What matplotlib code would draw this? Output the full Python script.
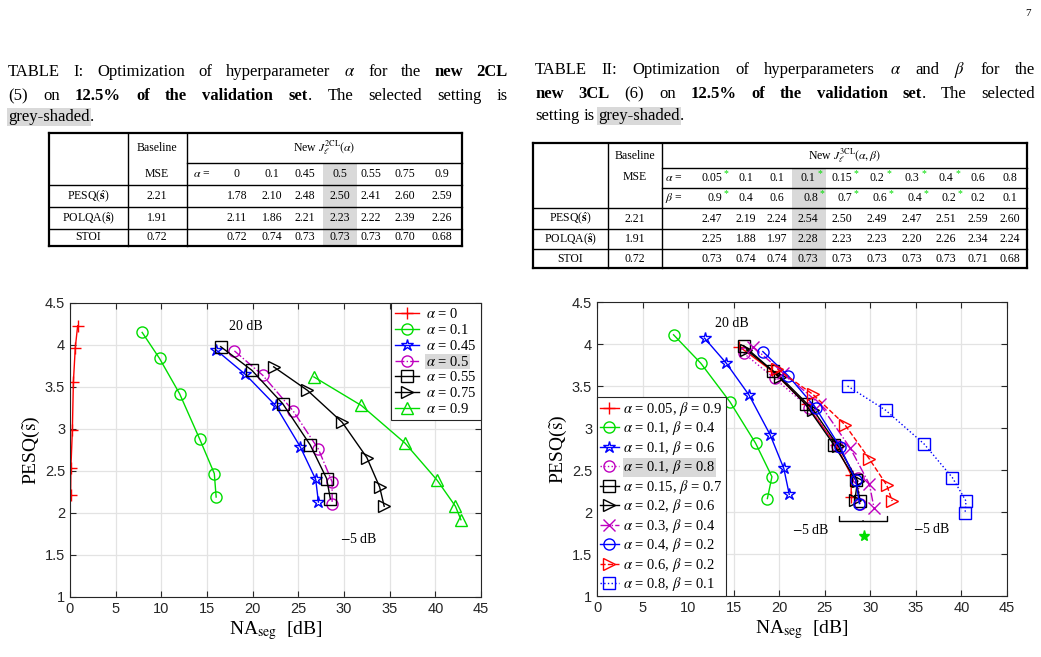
import matplotlib
matplotlib.use('Agg')
import matplotlib.pyplot as plt
from matplotlib.patches import Rectangle

plt.rcParams['mathtext.fontset'] = 'stix'
SERIF = 'Liberation Serif'
SANS = 'Liberation Sans'
W, H = 1041, 657
GREEN = '#00dd00'

# ---------------- data ----------------
# Table I
t1_alpha = ['0', '0.1', '0.45', '0.5', '0.55', '0.75', '0.9']
t1_rows = ['PESQ($\\hat{\\mathbf{s}}$)', 'POLQA($\\hat{\\mathbf{s}}$)', 'STOI']
t1_base = ['2.21', '1.91', '0.72']
t1_vals = [['1.78', '2.10', '2.48', '2.50', '2.41', '2.60', '2.59'],
           ['2.11', '1.86', '2.21', '2.23', '2.22', '2.39', '2.26'],
           ['0.72', '0.74', '0.73', '0.73', '0.73', '0.70', '0.68']]
t1_sel = 3

# Table II
t2_alpha = ['0.05', '0.1', '0.1', '0.1', '0.15', '0.2', '0.3', '0.4', '0.6', '0.8']
t2_beta = ['0.9', '0.4', '0.6', '0.8', '0.7', '0.6', '0.4', '0.2', '0.2', '0.1']
t2_star = [True, False, False, True, True, True, True, True, False, False]
t2_base = ['2.21', '1.91', '0.72']
t2_vals = [['2.47', '2.19', '2.24', '2.54', '2.50', '2.49', '2.47', '2.51', '2.59', '2.60'],
           ['2.25', '1.88', '1.97', '2.28', '2.23', '2.23', '2.20', '2.26', '2.34', '2.24'],
           ['0.73', '0.74', '0.74', '0.73', '0.73', '0.73', '0.73', '0.73', '0.71', '0.68']]
t2_sel = 3

# Left plot: NAseg (x) vs PESQ (y), per alpha
left_labels = ['$\\alpha$ = 0', '$\\alpha$ = 0.1', '$\\alpha$ = 0.45', '$\\alpha$ = 0.5',
               '$\\alpha$ = 0.55', '$\\alpha$ = 0.75', '$\\alpha$ = 0.9']
left_x = [[0.07, 0.1, 0.26, 0.37, 0.58, 0.84],
          [7.9, 9.8, 12.0, 14.2, 15.8, 16.0],
          [16.0, 19.2, 22.5, 25.2, 26.9, 27.2],
          [18.0, 21.1, 24.4, 27.2, 28.7, 28.7],
          [16.5, 19.9, 23.3, 26.3, 28.1, 28.5],
          [22.3, 26.0, 29.8, 32.5, 33.9, 34.4],
          [26.7, 31.9, 36.7, 40.2, 42.2, 42.8]]
left_y = [[2.21, 2.54, 2.99, 3.56, 3.97, 4.23],
          [4.15, 3.84, 3.42, 2.88, 2.47, 2.19],
          [3.94, 3.65, 3.28, 2.79, 2.40, 2.13],
          [3.93, 3.64, 3.22, 2.76, 2.37, 2.11],
          [3.98, 3.70, 3.30, 2.81, 2.41, 2.17],
          [3.74, 3.46, 3.08, 2.66, 2.31, 2.08],
          [3.62, 3.28, 2.83, 2.39, 2.08, 1.92]]
left_styles = [('r', '+', '-'), (GREEN, 'o', '-'), ('b', '*', '-'), ('m', 'o', '-.'),
               ('k', 's', '-'), ('k', '>', '-'), (GREEN, '^', '-')]

# Right plot, per (alpha, beta)
right_labels = ['$\\alpha$ = 0.05, $\\beta$ = 0.9', '$\\alpha$ = 0.1, $\\beta$ = 0.4',
                '$\\alpha$ = 0.1, $\\beta$ = 0.6', '$\\alpha$ = 0.1, $\\beta$ = 0.8',
                '$\\alpha$ = 0.15, $\\beta$ = 0.7', '$\\alpha$ = 0.2, $\\beta$ = 0.6',
                '$\\alpha$ = 0.3, $\\beta$ = 0.4', '$\\alpha$ = 0.4, $\\beta$ = 0.2',
                '$\\alpha$ = 0.6, $\\beta$ = 0.2', '$\\alpha$ = 0.8, $\\beta$ = 0.1']
right_x = [[15.6, 19.2, 23.0, 26.2, 27.9, 27.9],
           [8.4, 11.4, 14.6, 17.4, 19.2, 18.7],
           [11.8, 14.2, 16.7, 19.0, 20.5, 21.1],
           [16.1, 19.5, 23.3, 26.3, 28.6, 28.9],
           [16.1, 19.3, 22.9, 26.0, 28.4, 28.9],
           [16.4, 20.1, 23.7, 26.5, 28.6, 28.3],
           [17.1, 20.4, 24.5, 27.8, 29.9, 30.4],
           [18.2, 21.0, 24.0, 26.7, 28.4, 28.8],
           [19.8, 23.7, 27.2, 29.9, 31.8, 32.4],
           [27.5, 31.7, 35.9, 39.0, 40.5, 40.4]]
right_y = [[3.97, 3.68, 3.28, 2.80, 2.44, 2.18],
           [4.11, 3.77, 3.31, 2.82, 2.42, 2.16],
           [4.07, 3.77, 3.39, 2.92, 2.52, 2.21],
           [3.89, 3.59, 3.24, 2.79, 2.40, 2.10],
           [3.98, 3.68, 3.28, 2.80, 2.38, 2.13],
           [3.93, 3.61, 3.22, 2.78, 2.37, 2.14],
           [3.97, 3.66, 3.28, 2.76, 2.33, 2.05],
           [3.91, 3.62, 3.24, 2.77, 2.38, 2.10],
           [3.70, 3.40, 3.04, 2.63, 2.32, 2.13],
           [3.50, 3.21, 2.81, 2.41, 2.13, 1.99]]
right_styles = [('r', '+', '-'), (GREEN, 'o', '-'), ('b', '*', '-'), ('m', 'o', ':'),
                ('k', 's', '-'), ('k', '>', '-'), ('m', 'x', '-.'), ('b', 'o', '-'),
                ('r', '>', '--'), ('b', 's', ':')]
green_star = (29.3, 1.72)

# ---------------- page ----------------
fig = plt.figure(figsize=(W / 100, H / 100), dpi=100)
page = fig.add_axes([0, 0, 1, 1], zorder=0)
page.set_xlim(0, W)
page.set_ylim(H, 0)
page.axis('off')
renderer = fig.canvas.get_renderer()

page.text(1031, 14, '7', family=SERIF, fontsize=8, ha='right', va='center')


def text_width(t):
    return t.get_window_extent(renderer).width


def write_line(words, x0, x1, y, size=12, justify=True):
    # words: list of lists of (text, bold, shaded)
    objs = []
    for word in words:
        parts = []
        for s, bold, shade in word:
            t = page.text(0, y, s, family=SERIF, fontsize=size, va='center',
                          weight='bold' if bold else 'normal')
            if shade:
                t.set_bbox(dict(facecolor='#d9d9d9', edgecolor='none', pad=1))
            parts.append(t)
        objs.append(parts)
    widths = [sum(text_width(t) for t in p) for p in objs]
    if justify and len(objs) > 1:
        gap = (x1 - x0 - sum(widths)) / (len(objs) - 1)
    else:
        gap = 4
    x = x0
    for p, w in zip(objs, widths):
        xx = x
        for t in p:
            t.set_x(xx)
            xx += text_width(t)
        x += w + gap


def words(s, bold=False, shade=False):
    return [[(w, bold, shade)] for w in s.split()]


def caption(lines, x0, x1, ys):
    for i, (ln, y) in enumerate(zip(lines, ys)):
        write_line(ln, x0, x1, y, justify=i < len(lines) - 1)


cap1 = [words('TABLE I: Optimization of hyperparameter $\\alpha$ for the') + words('new 2CL', True),
        words('(5) on') + words('12.5% of the validation', True) + [[('set', True, False), ('.', False, False)]]
        + words('The selected setting is'),
        [[('grey-shaded', False, True), ('.', False, False)]]]
caption(cap1, 8, 508, [72, 96, 117])

cap2 = [words('TABLE II: Optimization of hyperparameters $\\alpha$ and $\\beta$ for the'),
        words('new 3CL', True) + words('(6) on') + words('12.5% of the validation', True)
        + [[('set', True, False), ('.', False, False)]] + words('The selected'),
        words('setting is') + [[('grey-shaded', False, True), ('.', False, False)]]]
caption(cap2, 535, 1035, [70, 94, 116])

TS = 8.5


def hline(x0, x1, y, lw=1.0):
    page.plot([x0, x1], [y, y], color='k', lw=lw)


def vline(x, y0, y1, lw=1.0):
    page.plot([x, x], [y0, y1], color='k', lw=lw)


def cell(x, y, s, ha='center'):
    page.text(x, y, s, family=SERIF, fontsize=TS, ha=ha, va='center')


# Table I
L, C1, C2, R = 49, 128, 187, 462
rows_y = [133, 163, 185, 207, 229, 246]
cols1 = [237, 272, 305, 340, 371, 405, 442]
page.add_patch(Rectangle((323, 164), 34, 246 - 164, color='#d9d9d9', lw=0))
for y in rows_y:
    hline(C2 if y == 163 else L, R, y, lw=1.6 if y in (133, 246) else 1.0)
for x in (L, R):
    vline(x, 133, 246, lw=1.6)
for x in (C1, C2):
    vline(x, 133, 246)
cell(157, 148, 'Baseline')
cell(157, 174, 'MSE')
cell((C2 + R) / 2, 148, 'New $J_{\\ell}^{\\mathrm{2CL}}(\\alpha)$')
cell(193, 174, '$\\alpha$ =', ha='left')
for x, a in zip(cols1, t1_alpha):
    cell(x, 174, a)
for r, yc in enumerate([196, 218, 237.5]):
    cell(88, yc, t1_rows[r])
    cell(157, yc, t1_base[r])
    for x, v in zip(cols1, t1_vals[r]):
        cell(x, yc, v)

# Table II
L, C1, C2, R = 533, 608, 662, 1027
rows_y = [143, 168, 188, 208, 229, 249, 268]
cols2 = [712, 746, 777, 808, 842, 877, 912, 946, 978, 1010]
page.add_patch(Rectangle((792, 168), 34, 268 - 168, color='#d9d9d9', lw=0))
for y in rows_y:
    hline(C2 if y in (168, 188) else L, R, y, lw=1.6 if y in (143, 268) else 1.0)
for x in (L, R):
    vline(x, 143, 268, lw=1.6)
for x in (C1, C2):
    vline(x, 143, 268)
cell(635, 156, 'Baseline')
cell(635, 177, 'MSE')
cell((C2 + R) / 2, 156, 'New $J_{\\ell}^{\\mathrm{3CL}}(\\alpha,\\beta)$')
cell(665, 178, '$\\alpha$ =', ha='left')
cell(665, 198, '$\\beta$ =', ha='left')
for x, a, b, st in zip(cols2, t2_alpha, t2_beta, t2_star):
    cell(x, 178, a)
    cell(x + 3 if st else x, 198, b)
    if st:
        page.text(x + 10 + 2 * (len(a) > 3), 174, '*', color=GREEN, fontsize=7, family=SERIF,
                  ha='left', va='center')
        page.text(x + 12, 194, '*', color=GREEN, fontsize=7, family=SERIF, ha='left', va='center')
for r, yc in enumerate([218.5, 239, 258.5]):
    cell(570, yc, t1_rows[r])
    cell(635, yc, t2_base[r])
    for x, v in zip(cols2, t2_vals[r]):
        cell(x, yc, v)


# ---------------- plots ----------------
def setup(ax):
    ax.set_xlim(0, 45)
    ax.set_ylim(1, 4.5)
    ax.set_xticks(range(0, 46, 5))
    ax.set_yticks([1, 1.5, 2, 2.5, 3, 3.5, 4, 4.5])
    ax.set_yticklabels(['1', '1.5', '2', '2.5', '3', '3.5', '4', '4.5'])
    ax.grid(True, color='#e3e3e3', lw=0.9)
    ax.set_axisbelow(True)
    ax.tick_params(direction='in', length=4, colors='#262626', labelsize=10.5,
                   top=True, right=True)
    for lab in ax.get_xticklabels() + ax.get_yticklabels():
        lab.set_family(SANS)
    for sp in ax.spines.values():
        sp.set_color('#262626')
        sp.set_linewidth(0.8)
    ax.set_xlabel('NA$_{\\mathrm{seg}}$  [dB]', family=SERIF, fontsize=14, labelpad=2)
    ax.set_ylabel('PESQ($\\tilde{\\mathrm{s}}$)', family=SERIF, fontsize=14, labelpad=2)


def draw(ax, xs, ys, styles, labels):
    for x, y, (c, m, ls), lab in zip(xs, ys, styles, labels):
        ax.plot(x, y, color=c, marker=m, ls=ls, lw=1.0, ms=9 if m in '+*x' else 8,
                mfc='none', mec=c, mew=1.0, label=lab)


ax1 = fig.add_axes([70 / W, 1 - 597 / H, 411 / W, 294 / H], zorder=2)
draw(ax1, left_x, left_y, left_styles, left_labels)
setup(ax1)
ax1.text(19.3, 4.22, '20 dB', family=SERIF, fontsize=10, ha='center', va='center')
ax1.text(31.6, 1.69, '$-$5 dB', family=SERIF, fontsize=10, ha='center', va='center')
leg1 = ax1.legend(loc='upper right', borderaxespad=0, fancybox=False, edgecolor='#262626',
                  framealpha=1, handlelength=1.6, handletextpad=0.5, labelspacing=0.12,
                  borderpad=0.3, prop={'family': SERIF, 'size': 10.5})
leg1.get_frame().set_linewidth(0.8)
leg1.get_texts()[3].set_bbox(dict(facecolor='#d9d9d9', edgecolor='none', pad=0.5))

ax2 = fig.add_axes([597 / W, 1 - 596 / H, 410 / W, 294 / H], zorder=2)
draw(ax2, right_x, right_y, right_styles, right_labels)
setup(ax2)
ax2.plot(*green_star, marker='*', color=GREEN, ms=8, ls='none')
ax2.text(14.8, 4.24, '20 dB', family=SERIF, fontsize=10, ha='center', va='center')
ax2.text(23.5, 1.79, '$-$5 dB', family=SERIF, fontsize=10, ha='center', va='center')
ax2.text(36.7, 1.80, '$-$5 dB', family=SERIF, fontsize=10, ha='center', va='center')
ax2.annotate('', xy=(29.2, 1.93), xytext=(29.2, 1.86),
             arrowprops=dict(arrowstyle='-[, widthB=1.7, lengthB=0.35', lw=1.0, color='k'))
leg2 = ax2.legend(loc='lower left', borderaxespad=0, fancybox=False, edgecolor='#262626',
                  framealpha=1, handlelength=1.3, handletextpad=0.3, labelspacing=0.1,
                  borderpad=0.2, prop={'family': SERIF, 'size': 10.5})
leg2.get_frame().set_linewidth(0.8)
leg2.get_texts()[3].set_bbox(dict(facecolor='#d9d9d9', edgecolor='none', pad=0.5))

fig.savefig('out.png', dpi=100)
